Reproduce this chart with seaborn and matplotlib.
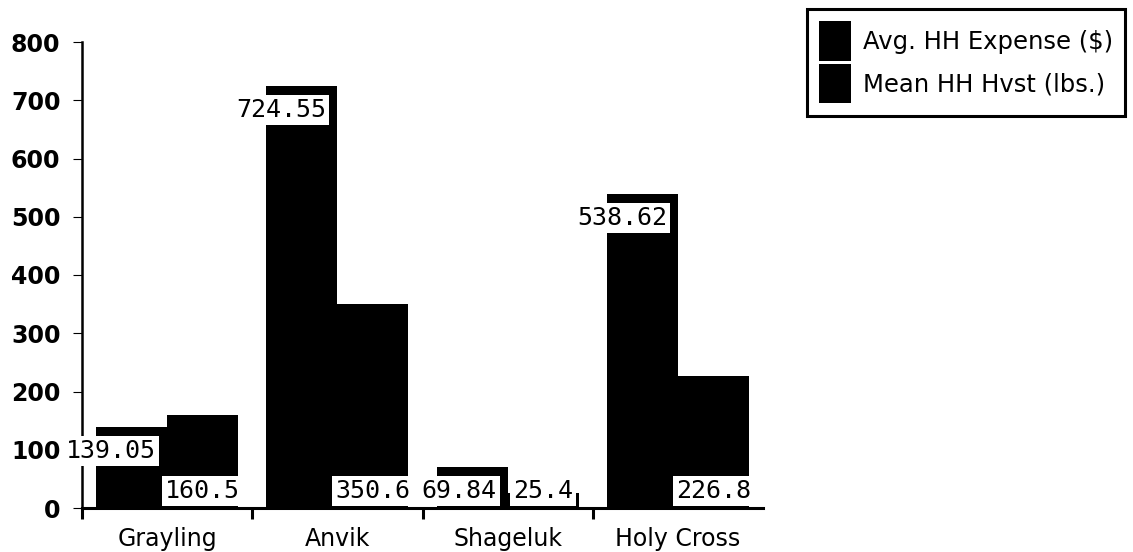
import matplotlib
matplotlib.use("Agg")
import matplotlib.pyplot as plt
import seaborn as sns
import pandas as pd

# Household expense and harvest by village
villages = ["Grayling", "Anvik", "Shageluk", "Holy Cross"]
series_names = ["Avg. HH Expense ($)", "Mean HH Hvst (lbs.)"]
avg_expense = [139.05, 724.55, 69.84, 538.62]
mean_harvest = [160.5, 350.6, 25.4, 226.8]
y_ticks = [0, 100, 200, 300, 400, 500, 600, 700, 800]

df = pd.DataFrame({
    "village": villages * 2,
    "series": [series_names[0]] * len(villages) + [series_names[1]] * len(villages),
    "value": avg_expense + mean_harvest,
})

sns.set_theme(style="white")
plt.rcParams["font.family"] = ["DejaVu Sans"]
plt.rcParams["text.color"] = "black"
plt.rcParams["xtick.color"] = "black"
plt.rcParams["ytick.color"] = "black"
plt.rcParams["axes.labelcolor"] = "black"

W, H = 1133, 552
fig = plt.figure(figsize=(W / 100, H / 100), dpi=100)
ax = fig.add_axes([82 / W, 1 - 508 / H, (763 - 82) / W, (508 - 42) / H])

sns.barplot(data=df, x="village", y="value", hue="series", order=villages,
            hue_order=series_names, palette=["black", "black"], saturation=1,
            width=0.835, errorbar=None, linewidth=0, ax=ax)

ax.set_xlim(-0.5, 3.5)
ax.set_ylim(0, 800)
ax.set_xlabel("")
ax.set_ylabel("")
ax.set_yticks(y_ticks)
ax.set_yticklabels([str(t) for t in y_ticks], fontsize=17, fontweight="bold",
                   color="black")
ax.set_xticks(range(len(villages)))
ax.set_xticklabels(villages, fontsize=17, color="black")
ax.set_xticks([-0.5, 0.5, 1.5, 2.5], minor=True)

ax.tick_params(axis="y", length=6.5, width=0.8, pad=9, color="black", left=True)
ax.tick_params(axis="x", which="major", length=0, pad=14)
ax.tick_params(axis="x", which="minor", length=8, width=2.2, color="black",
               direction="out", bottom=True)

for side in ["top", "right"]:
    ax.spines[side].set_visible(False)
ax.spines["left"].set_linewidth(1.8)
ax.spines["bottom"].set_linewidth(2.2)
ax.spines["left"].set_color("black")
ax.spines["bottom"].set_color("black")
ax.grid(False)

handles, labels = ax.get_legend_handles_labels()
ax.get_legend().remove()

label_style = dict(fontfamily="DejaVu Sans Mono", fontsize=18, color="black",
                   bbox=dict(boxstyle="square,pad=0.12", fc="white", ec="none"),
                   textcoords="offset pixels", zorder=5, annotation_clip=False)
pad_px = 0.12 * 18 * 100 / 72

# Expense values: right-aligned just inside the top of each bar
for rect, v in zip(ax.containers[0], avg_expense):
    ax.annotate(f"{v:g}", xy=(rect.get_x() + rect.get_width(), v),
                xytext=(-8 - pad_px, -9 - pad_px), ha="right", va="top",
                **label_style)

# Harvest values: centred at the foot of each bar
for rect, v in zip(ax.containers[1], mean_harvest):
    ax.annotate(f"{v:g}", xy=(rect.get_x() + rect.get_width() / 2, 0),
                xytext=(0, 2 + pad_px), ha="center", va="bottom", **label_style)

leg = fig.legend(handles, labels, loc="upper left",
                 bbox_to_anchor=(807 / W, 1 - 9 / H), borderaxespad=0,
                 fontsize=17.5, frameon=True, fancybox=False, shadow=False,
                 handlelength=1.3, handleheight=2.15, handletextpad=0.5,
                 labelspacing=0.1, borderpad=0.5)
for t in leg.get_texts():
    t.set_color("black")
frame = leg.get_frame()
frame.set_edgecolor("black")
frame.set_linewidth(2.2)
frame.set_facecolor("white")
frame.set_alpha(1)

fig.savefig("out.png", dpi=100, facecolor="white")
